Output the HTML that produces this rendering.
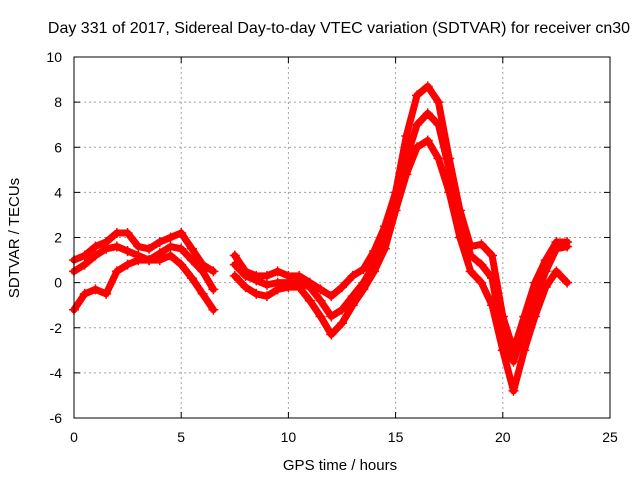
<!DOCTYPE html>
<html><head><meta charset="utf-8"><style>
body{margin:0;background:#fff}
svg text{font-family:"Liberation Sans",sans-serif;font-size:14px;fill:#000}
</style></head><body>
<svg id="chart" width="640" height="480" viewBox="0 0 640 480" xmlns="http://www.w3.org/2000/svg">
<text x="339" y="33" text-anchor="middle" style="font-size:16px">Day 331 of 2017, Sidereal Day-to-day VTEC variation (SDTVAR) for receiver cn30</text>
<text x="340" y="470" text-anchor="middle" style="font-size:15px">GPS time / hours</text>
<text transform="translate(19,238) rotate(-90)" text-anchor="middle" style="font-size:15px">SDTVAR / TECUs</text>
<g id="grid"></g><g id="marks"></g><g id="axes"></g>
</svg>
<script>
const xTicks=[0,5,10,15,20,25];
const yTicks=[-6,-4,-2,0,2,4,6,8,10];
const hours=[0,0.5,1,1.5,2,2.5,3,3.5,4,4.5,5,5.5,6,6.5,7,7.5,8,8.5,9,9.5,10,10.5,11,11.5,12,12.5,13,13.5,14,14.5,15,15.5,16,16.5,17,17.5,18,18.5,19,19.5,20,20.5,21,21.5,22,22.5,23];
const seriesA=[0.5,0.8,1.2,1.5,1.6,1.4,1.2,1.0,1.3,1.6,1.5,1.0,0.5,-0.3,null,0.8,0.3,0.1,-0.1,0,0,0,-0.2,-0.8,-1.5,-1.2,-0.6,0,0.8,2.0,3.8,5.5,7.0,7.5,7.0,5.0,3.0,1.2,0.8,0.2,-2.5,-3.5,-2.0,-0.8,0.5,1.5,1.6];
const seriesB=[1.0,1.2,1.6,1.8,2.2,2.2,1.6,1.5,1.8,2.0,2.2,1.5,0.8,0.5,null,1.2,0.5,0.3,0.3,0.5,0.3,0.3,0,-0.3,-0.6,-0.2,0.3,0.6,1.4,2.5,4.0,6.5,8.3,8.7,8.0,5.5,3.2,1.6,1.7,1.2,-1.5,-3.0,-1.5,0,1.0,1.8,1.8];
const seriesC=[-1.2,-0.5,-0.3,-0.5,0.5,0.8,1.0,1.0,1.0,1.2,0.8,0.2,-0.5,-1.2,null,0.3,-0.2,-0.5,-0.6,-0.3,-0.2,-0.2,-0.8,-1.5,-2.3,-1.8,-1.0,-0.3,0.5,1.5,3.2,4.8,6.0,6.3,5.5,4.0,2.0,0.5,0,-1.0,-3.0,-4.8,-3.0,-1.5,-0.2,0.5,0];
const X=v=>74+(v-0)*536/25, Y=v=>418-(v+6)*361/16;
const NS='http://www.w3.org/2000/svg';
const mk=(t,a,p)=>{const e=document.createElementNS(NS,t);for(const k in a)e.setAttribute(k,a[k]);p.appendChild(e);return e;};
const grid=document.getElementById('grid'),axes=document.getElementById('axes'),marks=document.getElementById('marks');
xTicks.forEach(t=>{
 if(t>0&&t<25){const g=mk('line',{x1:X(t),x2:X(t),y1:57,y2:418,stroke:'#a0a0a0','stroke-dasharray':'2,3'},grid);
 }
 mk('line',{x1:X(t),x2:X(t),y1:418,y2:412,stroke:'#000'},axes);mk('line',{x1:X(t),x2:X(t),y1:57,y2:63,stroke:'#000'},axes);
 const l=mk('text',{x:X(t),y:442,'text-anchor':'middle'},axes);l.textContent=t;
 
});
yTicks.forEach(t=>{
 if(t>-6&&t<10){const g=mk('line',{x1:74,x2:610,y1:Y(t),y2:Y(t),stroke:'#a0a0a0','stroke-dasharray':'2,3'},grid);
 }
 mk('line',{x1:74,x2:80,y1:Y(t),y2:Y(t),stroke:'#000'},axes);mk('line',{x1:610,x2:604,y1:Y(t),y2:Y(t),stroke:'#000'},axes);
 const l=mk('text',{x:62,y:Y(t)+5,'text-anchor':'end'},axes);l.textContent=t;
 
});
const box=mk('rect',{x:74,y:57,width:536,height:361,fill:'none',stroke:'#000'},axes);

[seriesA,seriesB,seriesC].forEach((s,i)=>{
 let seg=[];const segs=[];
 s.forEach((v,j)=>{if(v===null){if(seg.length)segs.push(seg);seg=[];}else seg.push([X(hours[j]),Y(v)]);});
 if(seg.length)segs.push(seg);
 segs.forEach(sg=>{const p=mk('polyline',{points:sg.map(q=>q.join(',')).join(' '),fill:'none',stroke:'#ff0000','stroke-width':7,'stroke-linejoin':'round','stroke-linecap':'round'},marks);
  });
 s.forEach((v,j)=>{if(v===null)return;const x=X(hours[j]),y=Y(v);
  const m=mk('path',{d:`M${x-5},${y}H${x+5}M${x},${y-5}V${y+5}`,stroke:'#ff0000','stroke-width':1.5},marks);
  });
});
</script>
</body></html>
